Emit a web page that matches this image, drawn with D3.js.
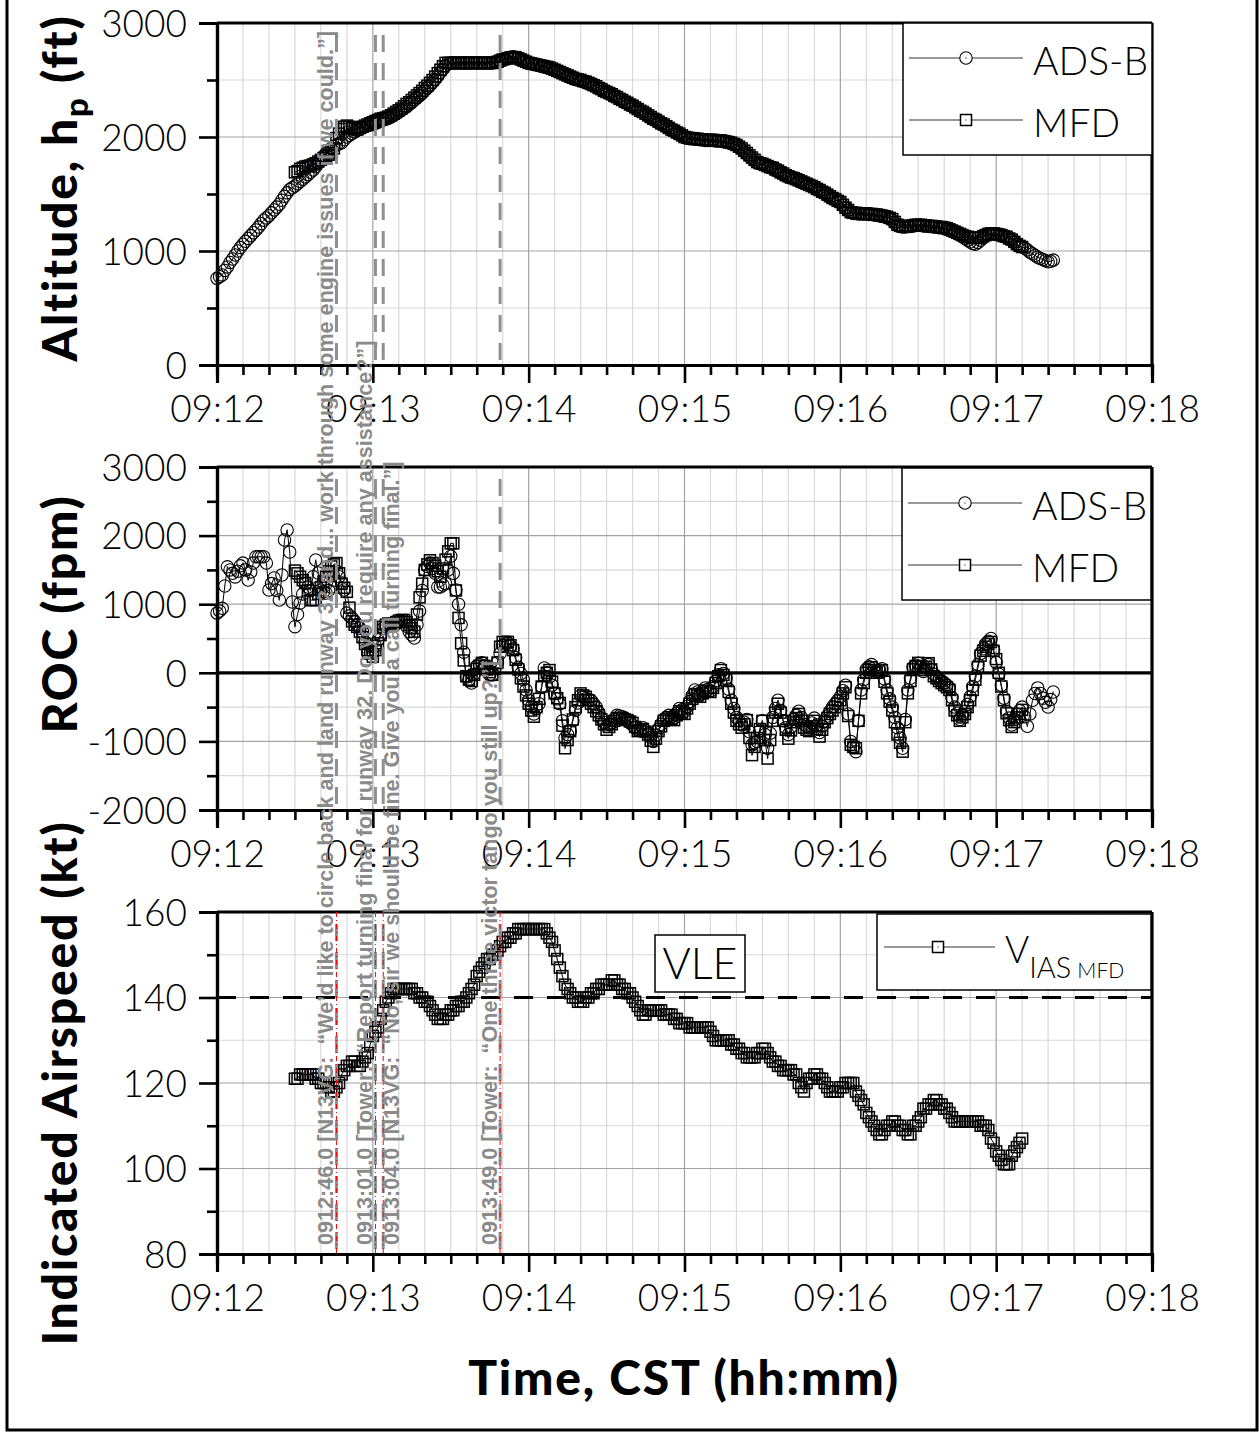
<!DOCTYPE html>
<html><head><meta charset="utf-8">
<script src="https://cdn.jsdelivr.net/npm/d3@7"></script>
<style>
body{margin:0;background:#fff;}
svg{display:block;}
</style>
</head><body>
<svg id="c" width="1259" height="1433"></svg>
<script>
// ---------------- DATA ----------------
const xTickSeconds = [0, 60, 120, 180, 240, 300, 360];
const xTickLabels = ["09:12", "09:13", "09:14", "09:15", "09:16", "09:17", "09:18"];
const altTicks = [0, 1000, 2000, 3000];
const rocTicks = [-2000, -1000, 0, 1000, 2000, 3000];
const iasTicks = [80, 100, 120, 140, 160];

// sampling grids (seconds after 09:12:00), one sample per second
const adsbStart = 0, adsbStep = 1;   // ADS-B samples 0..322 s
const mfdStart = 30, mfdStep = 1;    // MFD samples 30..310 s

const adsbAlt = [
 760,775,790,830,860,900,930,965,1000,1030,
 1060,1085,1110,1135,1160,1185,1210,1240,1270,1290,
 1310,1335,1360,1385,1410,1445,1480,1510,1540,1555,
 1570,1590,1610,1630,1650,1670,1690,1710,1740,1770,
 1800,1830,1860,1880,1900,1915,1930,1940,1950,1975,
 2000,2015,2030,2045,2060,2070,2080,2090,2100,2105,
 2110,2120,2130,2140,2150,2155,2165,2175,2190,2205,
 2220,2235,2250,2265,2285,2305,2325,2345,2365,2385,
 2410,2430,2455,2480,2505,2535,2565,2595,2625,2640,
 2650,2650,2650,2650,2650,2650,2650,2650,2650,2650,
 2650,2650,2650,2650,2650,2650,2650,2655,2660,2670,
 2680,2690,2695,2700,2705,2700,2690,2680,2670,2660,
 2650,2645,2640,2635,2630,2620,2615,2610,2605,2595,
 2585,2575,2565,2555,2545,2535,2525,2515,2505,2500,
 2495,2485,2480,2470,2460,2450,2440,2425,2415,2400,
 2390,2380,2370,2355,2345,2330,2320,2305,2295,2280,
 2270,2255,2240,2225,2215,2200,2185,2170,2155,2145,
 2130,2115,2105,2090,2075,2060,2050,2035,2025,2010,
 1995,1990,1985,1985,1980,1980,1975,1975,1970,1970,
 1970,1970,1965,1965,1965,1960,1955,1950,1945,1935,
 1925,1910,1890,1870,1850,1830,1810,1790,1775,1765,
 1760,1750,1740,1730,1725,1710,1700,1685,1675,1660,
 1650,1640,1635,1625,1615,1605,1595,1585,1575,1565,
 1555,1540,1530,1515,1505,1490,1475,1460,1450,1435,
 1425,1400,1375,1355,1340,1330,1330,1325,1325,1325,
 1325,1320,1320,1315,1315,1310,1305,1300,1295,1285,
 1270,1245,1225,1215,1210,1210,1215,1215,1220,1225,
 1225,1225,1220,1220,1215,1215,1210,1210,1205,1205,
 1200,1190,1185,1175,1165,1150,1140,1125,1110,1095,
 1080,1065,1060,1075,1095,1115,1135,1145,1150,1150,
 1145,1140,1135,1125,1120,1105,1095,1080,1060,1045,
 1035,1025,1010,990,975,960,945,935,925,915,
 905,910,920
];
const mfdAlt = [
 1690,1700,1720,1730,1740,1745,1750,1760,1770,1785,
 1800,1815,1830,1845,1860,1900,1990,2030,2070,2090,
 2100,2090,2080,2070,2065,2080,2090,2100,2110,2120,
 2130,2140,2150,2160,2165,2170,2180,2190,2205,2220,
 2235,2250,2270,2290,2305,2325,2345,2365,2385,2405,
 2430,2450,2475,2500,2530,2560,2590,2620,2650,2650,
 2650,2650,2650,2650,2650,2650,2650,2650,2650,2650,
 2650,2650,2650,2650,2650,2650,2650,2650,2660,2670,
 2680,2685,2690,2695,2700,2700,2690,2680,2670,2660,
 2650,2645,2640,2635,2630,2625,2620,2615,2610,2600,
 2590,2580,2570,2560,2550,2540,2530,2520,2510,2505,
 2500,2490,2485,2475,2465,2455,2445,2430,2420,2405,
 2395,2385,2375,2360,2350,2335,2325,2310,2300,2285,
 2275,2260,2245,2230,2220,2205,2190,2175,2160,2150,
 2135,2120,2110,2095,2080,2065,2055,2040,2030,2015,
 2000,1995,1990,1990,1985,1985,1980,1980,1975,1975,
 1975,1975,1970,1970,1970,1965,1960,1955,1950,1940,
 1930,1915,1900,1880,1860,1840,1820,1800,1780,1770,
 1765,1755,1745,1735,1730,1715,1705,1690,1680,1665,
 1655,1645,1640,1630,1620,1610,1600,1590,1580,1570,
 1560,1545,1535,1520,1510,1495,1480,1465,1455,1440,
 1430,1405,1380,1360,1340,1335,1335,1330,1330,1330,
 1330,1325,1325,1320,1320,1315,1310,1305,1300,1290,
 1280,1255,1230,1220,1215,1215,1220,1220,1225,1230,
 1230,1230,1225,1225,1220,1220,1215,1215,1210,1210,
 1205,1200,1190,1180,1170,1160,1150,1140,1130,1125,
 1120,1115,1115,1115,1120,1130,1140,1150,1155,1155,
 1150,1145,1140,1130,1125,1110,1100,1080,1060,1045,
 1035
];
const adsbRoc = [
 870,900,940,1265,1545,1500,1450,1397,1480,1560,
 1600,1500,1352,1470,1600,1692,1692,1692,1692,1600,
 1207,1300,1382,1200,1061,1426,1936,2082,1760,1032,
 672,850,1017,1150,1300,1250,1200,1400,1644,1455,
 1207,1180,1163,1200,1250,1350,1480,1400,1309,1207,
 870,830,800,750,700,650,600,450,289,290,
 300,390,480,560,650,680,700,690,680,710,
 740,750,760,680,600,550,507,700,900,1200,
 1500,1550,1600,1520,1450,1250,1250,1280,1300,1500,
 1700,1450,1207,1000,700,300,-60,-100,-150,-20,
 100,120,145,100,50,-30,-30,60,150,280,
 400,420,430,390,350,220,80,-10,-100,-250,
 -400,-500,-600,-520,-450,-200,70,0,-60,-180,
 -300,-380,-450,-700,-950,-900,-850,-700,-550,-440,
 -330,-350,-380,-390,-400,-450,-500,-580,-660,-720,
 -780,-750,-730,-680,-620,-630,-640,-660,-680,-720,
 -760,-800,-840,-820,-800,-840,-880,-940,-1000,-910,
 -820,-750,-680,-650,-620,-640,-660,-590,-520,-540,
 -560,-490,-420,-330,-250,-280,-320,-270,-220,-240,
 -270,-200,-120,-30,60,-10,-80,-240,-400,-520,
 -650,-700,-760,-720,-680,-860,-1050,-1020,-1000,-850,
 -700,-900,-1100,-880,-650,-520,-400,-550,-700,-800,
 -900,-790,-680,-620,-560,-650,-750,-780,-800,-730,
 -660,-760,-870,-780,-700,-630,-560,-500,-450,-400,
 -350,-260,-180,-600,-1000,-1080,-1150,-700,-250,-100,
 50,90,120,70,20,40,60,-90,-250,-380,
 -500,-650,-800,-950,-1100,-680,-250,-80,80,110,
 140,80,20,70,120,50,-20,-60,-100,-120,
 -150,-180,-220,-360,-500,-590,-680,-620,-560,-460,
 -350,-200,-50,120,280,350,420,460,500,330,
 150,-20,-180,-370,-560,-660,-760,-680,-600,-550,
 -500,-640,-780,-600,-400,-300,-220,-300,-370,-430,
 -500,-390,-280
];
const mfdRoc = [
 1490,1450,1400,1350,1310,1200,1060,1060,1060,1150,
 1250,1330,1400,1480,1550,1580,1600,1450,1300,1240,
 1180,950,750,700,670,600,520,420,330,280,
 235,330,430,550,670,700,720,720,720,740,
 760,770,770,740,700,650,600,850,1100,1300,
 1500,1580,1640,1600,1560,1480,1400,1520,1650,1770,
 1887,1887,1200,800,430,180,-50,-100,-120,-30,
 60,100,145,100,50,10,-30,60,150,380,
 450,450,450,400,330,190,50,-80,-200,-330,
 -450,-550,-640,-500,-380,-200,-50,0,40,-130,
 -300,-370,-440,-770,-1100,-980,-850,-680,-500,-400,
 -300,-330,-350,-400,-450,-500,-560,-620,-680,-750,
 -830,-790,-750,-700,-660,-660,-660,-680,-690,-710,
 -730,-790,-850,-840,-820,-860,-900,-990,-1080,-960,
 -850,-780,-700,-680,-650,-670,-690,-620,-560,-580,
 -600,-520,-450,-380,-310,-330,-350,-300,-260,-270,
 -280,-220,-150,-50,40,-30,-100,-280,-450,-580,
 -700,-750,-800,-750,-690,-950,-1200,-1080,-950,-820,
 -700,-980,-1250,-980,-700,-580,-450,-580,-700,-830,
 -960,-840,-720,-660,-600,-700,-800,-830,-850,-780,
 -700,-820,-930,-830,-720,-660,-600,-550,-500,-450,
 -400,-300,-210,-630,-1050,-1080,-1100,-700,-300,-150,
 0,40,80,40,0,20,40,-130,-300,-420,
 -550,-720,-900,-1020,-1150,-720,-300,-120,50,100,
 145,90,40,90,140,50,-50,-80,-120,-150,
 -180,-210,-250,-400,-550,-620,-700,-650,-600,-500,
 -400,-250,-100,80,250,320,380,420,450,320,
 200,0,-200,-400,-590,-690,-790,-720,-650,-600,
 -540
];
const mfdIas = [
 121,121,122,122,122,122,122,122,121,121,
 120,120,120,119,118,118,119,120,122,123,
 124,124,125,125,124,124,125,126,127,129,
 131,132,133,135,137,139,140,141,142,142,
 142,142,142,142,142,142,141,141,140,140,
 139,139,138,137,136,135,135,135,136,136,
 137,137,138,138,139,139,140,141,142,143,
 145,146,147,148,149,149,150,150,151,152,
 153,153,154,154,155,155,156,156,156,156,
 156,156,156,156,156,156,156,155,154,153,
 151,149,147,145,143,142,141,140,140,139,
 139,139,140,140,141,141,142,142,143,143,
 143,143,144,144,143,143,142,142,141,141,
 140,139,138,137,136,136,137,137,137,137,
 137,137,136,136,136,136,135,135,134,134,
 134,134,133,133,133,133,133,133,133,133,
 132,131,130,130,130,130,130,130,129,129,
 128,128,127,127,126,126,126,126,127,127,
 128,128,127,126,125,125,124,124,123,123,
 123,123,122,122,120,119,118,120,121,121,
 122,122,121,121,120,119,118,118,118,118,
 119,119,120,120,120,120,118,117,116,115,
 113,112,111,110,109,108,108,109,110,110,
 111,111,110,110,109,109,108,108,110,110,
 111,112,114,114,115,115,116,116,115,115,
 114,114,113,112,111,111,111,111,111,111,
 111,111,111,111,110,110,110,109,107,106,
 104,103,102,101,101,101,103,104,105,106,
 107
];

const vleKt = 140;
const eventSeconds = [46, 61, 64, 109];
const eventTexts = [
 "0912:46.0 [N13VG:  \u201CWe\u2019d like to circle back and land runway 32 and... work through some engine issues if we could.\u201D]",
 "0913:01.0 [Tower:  \u201CReport turning final for runway 32. Do you require any assistance?\u201D]",
 "0913:04.0 [N13VG:  \u201CNo, sir we should be fine. Give you a call turning final.\u201D]",
 "0913:49.0 [Tower:  \u201COne three victor tango you still up?\u201D]"
];
const legendNames = ["ADS-B", "MFD"];

// ---------------- LAYOUT ----------------
const svg = d3.select("#c");
const X0 = 217, X1 = 1152;
const x = d3.scaleLinear().domain([0, 360]).range([X0, X1]);
const TICKFONT = "Lato, 'Open Sans', sans-serif";
const TICKWEIGHT = 300;

const panels = [
 {top: 23, bottom: 365, domain: [0, 3000], ticks: altTicks, minorStep: 500},
 {top: 467, bottom: 810, domain: [-2000, 3000], ticks: rocTicks, minorStep: 500},
 {top: 912, bottom: 1254, domain: [80, 160], ticks: iasTicks, minorStep: 10}
];
panels.forEach(p => { p.y = d3.scaleLinear().domain(p.domain).range([p.bottom, p.top]); });

const fmt = d => d < 0 ? "-" + Math.abs(d) : String(d);

svg.append("path").attr("d", `M7,-5 V1430 H1257 V-5`).attr("fill", "none")
  .attr("stroke", "#000").attr("stroke-width", 3);

function drawGrid(p) {
  const g = svg.append("g");
  const minorX = d3.range(0, 361, 10).filter(s => s % 60 !== 0);
  const majorX = d3.range(0, 361, 60);
  const minorY = d3.range(p.domain[0], p.domain[1] + 1e-9, p.minorStep).filter(v => !p.ticks.includes(v));
  g.selectAll(".vmin").data(minorX).join("line")
    .attr("x1", d => x(d)).attr("x2", d => x(d)).attr("y1", p.top).attr("y2", p.bottom)
    .attr("stroke", "#d9d9d9").attr("stroke-width", 1.2);
  g.selectAll(".hmin").data(minorY).join("line")
    .attr("x1", X0).attr("x2", X1).attr("y1", d => p.y(d)).attr("y2", d => p.y(d))
    .attr("stroke", "#d9d9d9").attr("stroke-width", 1.2);
  g.selectAll(".vmaj").data(majorX).join("line")
    .attr("x1", d => x(d)).attr("x2", d => x(d)).attr("y1", p.top).attr("y2", p.bottom)
    .attr("stroke", "#a3a3a3").attr("stroke-width", 1.2);
  g.selectAll(".hmaj").data(p.ticks).join("line")
    .attr("x1", X0).attr("x2", X1).attr("y1", d => p.y(d)).attr("y2", d => p.y(d))
    .attr("stroke", "#a3a3a3").attr("stroke-width", 1.2);
}

function drawAxes(p) {
  const g = svg.append("g");
  const minorY = d3.range(p.domain[0], p.domain[1] + 1e-9, p.minorStep).filter(v => !p.ticks.includes(v));
  const gxm = g.append("g").attr("transform", `translate(0,${p.bottom})`)
    .call(d3.axisBottom(x).tickValues(d3.range(0, 361, 10).filter(s => s % 60 !== 0)).tickSize(10).tickFormat(""));
  const gx = g.append("g").attr("transform", `translate(0,${p.bottom})`)
    .call(d3.axisBottom(x).tickValues(xTickSeconds).tickSize(18).tickPadding(13)
      .tickFormat((d, i) => xTickLabels[i]));
  const gym = g.append("g").attr("transform", `translate(${X0},0)`)
    .call(d3.axisLeft(p.y).tickValues(minorY).tickSize(10).tickFormat(""));
  const gy = g.append("g").attr("transform", `translate(${X0},0)`)
    .call(d3.axisLeft(p.y).tickValues(p.ticks).tickSize(18).tickPadding(12).tickFormat(fmt));
  [gxm, gx, gym, gy].forEach(a => {
    a.selectAll("path.domain").attr("stroke", "#000").attr("stroke-width", 3.2);
    a.selectAll(".tick line").attr("stroke", "#000").attr("stroke-width", 2.6);
    a.selectAll("text").attr("font-family", TICKFONT).attr("font-weight", TICKWEIGHT)
      .attr("font-size", 37).attr("fill", "#000");
  });
  gy.selectAll("text").attr("dy", "0.36em");
  g.append("line").attr("x1", X0).attr("x2", X1).attr("y1", p.top).attr("y2", p.top)
    .attr("stroke", "#000").attr("stroke-width", 3.2);
  g.append("line").attr("x1", X1).attr("x2", X1).attr("y1", p.top).attr("y2", p.bottom)
    .attr("stroke", "#000").attr("stroke-width", 3.2);
}

function series(start, step, vals) {
  return vals.map((v, i) => ({t: start + i * step, v}));
}

// hollow markers for data (outlines overlap), white-filled in legends
function addMarker(sel, shape, fill) {
  if (shape === "circle") {
    sel.append("circle").attr("r", 6.2).attr("fill", fill).attr("stroke", "#000").attr("stroke-width", 1.1);
  } else {
    sel.append("rect").attr("x", -5.5).attr("y", -5.5).attr("width", 11).attr("height", 11)
      .attr("fill", fill).attr("stroke", "#000").attr("stroke-width", 1.5);
  }
  sel.append("circle").attr("r", 0.7).attr("fill", "#444");
}

function drawSeries(p, data, shape) {
  const g = svg.append("g");
  const line = d3.line().x(d => x(d.t)).y(d => p.y(d.v));
  g.append("path").datum(data).attr("d", line).attr("fill", "none")
    .attr("stroke", "#000").attr("stroke-width", 1);
  const m = g.selectAll("g.m").data(data).join("g")
    .attr("transform", d => `translate(${x(d.t)},${p.y(d.v)})`);
  addMarker(m, shape, "none");
}

function drawLegend(top, left, right, bottom, entries) {
  const g = svg.append("g");
  g.append("rect").attr("x", left).attr("y", top).attr("width", right - left).attr("height", bottom - top)
    .attr("fill", "#fff").attr("stroke", "#000").attr("stroke-width", 1.5);
  entries.forEach((e, i) => {
    const yy = top + 35 + i * 62;
    g.append("line").attr("x1", left + 6).attr("x2", left + 120).attr("y1", yy).attr("y2", yy)
      .attr("stroke", "#333").attr("stroke-width", 1.2);
    addMarker(g.append("g").attr("transform", `translate(${left + 63},${yy})`), e.shape, "#fff");
    g.append("text").attr("x", left + 130).attr("y", yy + 17).text(e.name)
      .attr("font-family", TICKFONT).attr("font-weight", TICKWEIGHT).attr("font-size", 39).attr("fill", "#000");
  });
}

panels.forEach(drawGrid);

svg.append("line").attr("x1", X0).attr("x2", X1)
  .attr("y1", panels[1].y(0)).attr("y2", panels[1].y(0))
  .attr("stroke", "#000").attr("stroke-width", 3.2);

svg.append("line").attr("x1", X0).attr("x2", X1)
  .attr("y1", panels[2].y(vleKt)).attr("y2", panels[2].y(vleKt))
  .attr("stroke", "#000").attr("stroke-width", 3).attr("stroke-dasharray", "19,14");

drawSeries(panels[0], series(adsbStart, adsbStep, adsbAlt), "circle");
drawSeries(panels[0], series(mfdStart, mfdStep, mfdAlt), "square");
drawSeries(panels[1], series(adsbStart, adsbStep, adsbRoc), "circle");
drawSeries(panels[1], series(mfdStart, mfdStep, mfdRoc), "square");
drawSeries(panels[2], series(mfdStart, mfdStep, mfdIas), "square");

panels.forEach(drawAxes);

panels.forEach((p, pi) => {
  const g = svg.append("g");
  g.selectAll("line.ev").data(eventSeconds).join("line")
    .attr("x1", d => x(d)).attr("x2", d => x(d)).attr("y1", p.top + 12).attr("y2", p.bottom)
    .attr("stroke", "#8f8f8f").attr("stroke-width", 3).attr("stroke-dasharray", "17,11");
  if (pi === 2) {
    g.selectAll("line.red").data(eventSeconds).join("line")
      .attr("x1", d => x(d)).attr("x2", d => x(d)).attr("y1", p.top).attr("y2", p.bottom)
      .attr("stroke", "#ff0000").attr("stroke-width", 1).attr("stroke-dasharray", "5,3,1,3");
  }
});

drawLegend(23, 903, 1152, 155, [{name: legendNames[0], shape: "circle"}, {name: legendNames[1], shape: "square"}]);
drawLegend(468, 902, 1151, 600, [{name: legendNames[0], shape: "circle"}, {name: legendNames[1], shape: "square"}]);

{
  const g = svg.append("g");
  g.append("rect").attr("x", 877).attr("y", 914).attr("width", 274).attr("height", 76)
    .attr("fill", "#fff").attr("stroke", "#000").attr("stroke-width", 1.5);
  g.append("line").attr("x1", 884).attr("x2", 995).attr("y1", 947).attr("y2", 947)
    .attr("stroke", "#333").attr("stroke-width", 1.2);
  addMarker(g.append("g").attr("transform", "translate(938,947)"), "square", "#fff");
  const t = g.append("text").attr("x", 1005).attr("y", 963).attr("font-family", TICKFONT)
    .attr("font-weight", TICKWEIGHT).attr("fill", "#000");
  t.append("tspan").attr("font-size", 37).text("V");
  t.append("tspan").attr("font-size", 29).attr("dy", 15).text("IAS");
  t.append("tspan").attr("font-size", 21).attr("dx", 6).text("MFD");
}

{
  const g = svg.append("g");
  g.append("rect").attr("x", 655).attr("y", 935).attr("width", 90).attr("height", 57)
    .attr("fill", "#fff").attr("stroke", "#000").attr("stroke-width", 1.5);
  g.append("text").attr("x", 700).attr("y", 979).attr("text-anchor", "middle")
    .attr("font-family", TICKFONT).attr("font-weight", TICKWEIGHT)
    .attr("font-size", 43).attr("fill", "#000").text("VLE");
}

const evOffsets = [-3.5, -3.5, 16, -3];
eventSeconds.forEach((s, i) => {
  svg.append("text")
    .attr("transform", `translate(${x(s) + evOffsets[i]},1245) rotate(-90)`)
    .attr("font-family", "'Liberation Sans', Arial, sans-serif").attr("font-weight", "bold")
    .attr("font-size", 21.6).attr("fill", "#8a8a8a").style("white-space", "pre")
    .text(eventTexts[i]);
});

const TITLEFONT = "Lato, 'Open Sans', sans-serif";
function title(sel) {
  return sel.attr("font-family", TITLEFONT).attr("font-weight", 900)
    .attr("font-size", 48).attr("letter-spacing", 1.8).attr("fill", "#000");
}
{
  const t = title(svg.append("text").attr("transform", `translate(77,188) rotate(-90)`)
    .attr("text-anchor", "middle"));
  t.append("tspan").text("Altitude, h");
  t.append("tspan").attr("font-size", 33).attr("dy", 11).text("p");
  t.append("tspan").attr("dy", -11).text(" (ft)");
}
title(svg.append("text").attr("transform", `translate(77,614) rotate(-90)`).attr("text-anchor", "middle"))
  .text("ROC (fpm)");
title(svg.append("text").attr("transform", `translate(77,1083) rotate(-90)`).attr("text-anchor", "middle"))
  .text("Indicated Airspeed (kt)");
title(svg.append("text").attr("x", 684).attr("y", 1395).attr("text-anchor", "middle"))
  .text("Time, CST (hh:mm)");
</script>
</body></html>
